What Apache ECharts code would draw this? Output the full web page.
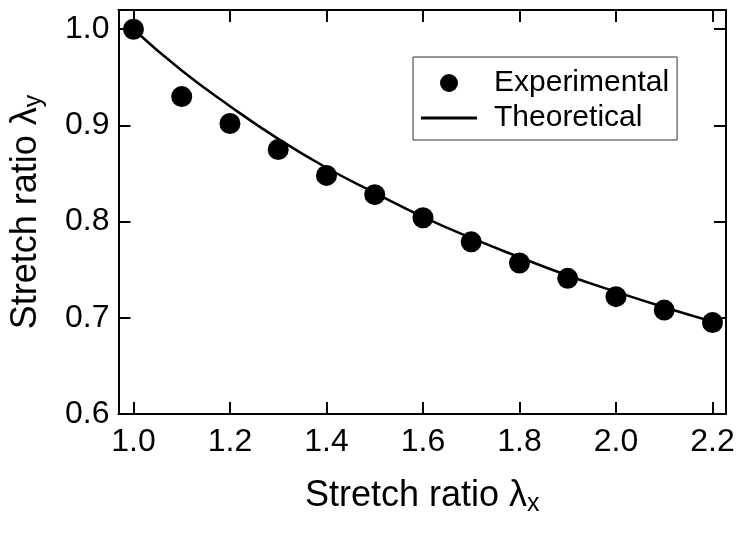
<!DOCTYPE html>
<html>
<head>
<meta charset="utf-8">
<script src="https://cdn.jsdelivr.net/npm/echarts@6/dist/echarts.min.js"></script>
<style>
    html, body {margin: 0; padding: 0; background: #fff;}
    #chart {width: 742px; height: 533px;}
</style>
</head>
<body>
<div id="chart"></div>
<script>
// measured points
var xExp = [1.0, 1.1, 1.2, 1.3, 1.4, 1.5, 1.6, 1.7, 1.8, 1.9, 2.0, 2.1, 2.2];
var yExp = [1.000, 0.930, 0.902, 0.875, 0.848, 0.828, 0.804, 0.779, 0.757, 0.741, 0.722, 0.708, 0.695];

// curve
var xTheory = [1.0, 1.1, 1.2, 1.3, 1.4, 1.5, 1.6, 1.7, 1.8, 1.9, 2.0, 2.1, 2.2];
var yTheory = [1.000, 0.957, 0.920, 0.886, 0.856, 0.830, 0.805, 0.783, 0.763, 0.744, 0.727, 0.711, 0.696];

var xTicks = [1.0, 1.2, 1.4, 1.6, 1.8, 2.0, 2.2];
var yTicks = [0.6, 0.7, 0.8, 0.9, 1.0];

var FONT = '"Liberation Sans", Arial, sans-serif';

function pairs(xs, ys) {
    var out = [];
    for (var i = 0; i < xs.length; i++) {
        out.push([xs[i], ys[i]]);
    }
    return out;
}

function fmt(v) {
    return v.toFixed(1);
}

var chart = echarts.init(document.getElementById('chart'), null, {renderer: 'canvas'});

var axisLine = {show: true, onZero: false, lineStyle: {color: '#000', width: 2}};
var subStyle = {fontFamily: FONT, fontSize: 25, color: '#000', verticalAlign: 'bottom', padding: [16, 0, 0, 0]};

var option = {
    animation: false,
    backgroundColor: '#fff',
    grid: {left: 117, right: 16, top: 10, bottom: 119},
    legend: {
        orient: 'vertical',
        left: 413,
        top: 57,
        width: 268,
        padding: [11, 8, 7, 8],
        itemGap: 5,
        itemWidth: 56,
        itemHeight: 18,
        borderColor: '#333',
        borderWidth: 1,
        align: 'left',
        textStyle: {
            fontFamily: FONT,
            fontSize: 30,
            color: '#000',
            padding: [0, 0, 0, 12]
        },
        data: [
            {name: 'Experimental', icon: 'circle'},
            {name: 'Theoretical', icon: 'path://M0,0L56,0L56,3L0,3Z'}
        ]
    },
    xAxis: [{
        type: 'value',
        min: 0.969,
        max: 2.228,
        position: 'bottom',
        name: 'Stretch ratio λ{sub|x}',
        nameLocation: 'middle',
        nameGap: 62,
        nameTextStyle: {
            fontFamily: FONT,
            fontSize: 36,
            color: '#000',
            rich: {sub: subStyle}
        },
        axisLine: axisLine,
        axisTick: {show: true, inside: true, length: 12, customValues: xTicks, lineStyle: {color: '#000', width: 2}},
        axisLabel: {
            customValues: xTicks,
            formatter: fmt,
            margin: 12,
            fontFamily: FONT,
            fontSize: 32,
            color: '#000'
        },
        splitLine: {show: false}
    }, {
        type: 'value',
        min: 0.969,
        max: 2.228,
        position: 'top',
        axisLine: axisLine,
        axisTick: {show: true, inside: true, length: 12, customValues: xTicks, lineStyle: {color: '#000', width: 2}},
        axisLabel: {show: false},
        splitLine: {show: false}
    }],
    yAxis: [{
        type: 'value',
        min: 0.6,
        max: 1.02,
        position: 'left',
        name: 'Stretch ratio λ{sub|y}',
        nameLocation: 'middle',
        nameGap: 72,
        nameTextStyle: {
            fontFamily: FONT,
            fontSize: 36,
            color: '#000',
            rich: {sub: subStyle}
        },
        axisLine: axisLine,
        axisTick: {show: true, inside: true, length: 12, customValues: yTicks, lineStyle: {color: '#000', width: 2}},
        axisLabel: {
            customValues: yTicks,
            formatter: fmt,
            margin: 9,
            fontFamily: FONT,
            fontSize: 32,
            color: '#000'
        },
        splitLine: {show: false}
    }, {
        type: 'value',
        min: 0.6,
        max: 1.02,
        position: 'right',
        axisLine: axisLine,
        axisTick: {show: true, inside: true, length: 12, customValues: yTicks, lineStyle: {color: '#000', width: 2}},
        axisLabel: {show: false},
        splitLine: {show: false}
    }],
    series: [{
        name: 'Theoretical',
        type: 'line',
        smooth: true,
        symbol: 'none',
        lineStyle: {color: '#000', width: 2.5},
        itemStyle: {color: '#000'},
        data: pairs(xTheory, yTheory),
        z: 2
    }, {
        name: 'Experimental',
        type: 'scatter',
        symbol: 'circle',
        symbolSize: 21,
        itemStyle: {color: '#000', opacity: 1},
        data: pairs(xExp, yExp),
        z: 3
    }]
};

chart.setOption(option);
</script>
</body>
</html>
